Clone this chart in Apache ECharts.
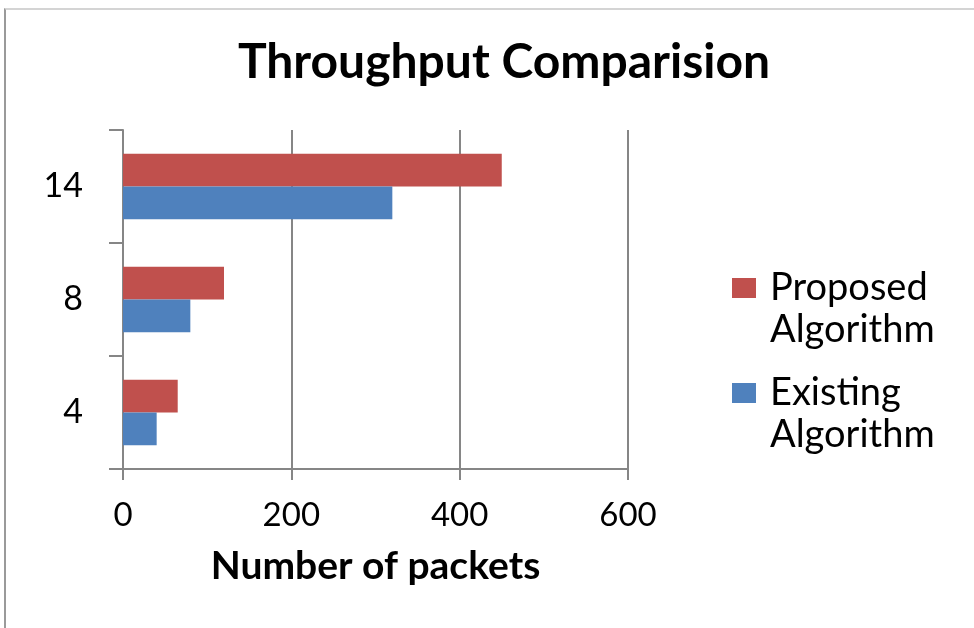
<!DOCTYPE html>
<html>
<head>
<meta charset="utf-8">
<script src="https://cdn.jsdelivr.net/npm/echarts@6/dist/echarts.min.js"></script>
<style>
  html, body { margin: 0; padding: 0; background: #fff; }
  #frame {
    position: absolute; left: 4px; top: 8px; width: 972px; height: 622px;
    border-left: 2px solid #9a9a9a; border-top: 2px solid #d4d4d4;
    pointer-events: none;
  }
  #chart { width: 974px; height: 628px; }
</style>
</head>
<body>
<div id="chart"></div>
<div id="frame"></div>
<script>
// node counts, bottom to top
const categories = ['4', '8', '14'];
const proposed = [65, 120, 450];
const existing = [40, 80, 320];
const xTicks = [0, 200, 400, 600];

const axisGray = '#868686';
const font = 'Lato, "Open Sans", sans-serif';
// square at the top of a taller box so it lines up with the first text line
const legendIcon = 'path://M0,0h24v20h-24zM33,62';

const chart = echarts.init(document.getElementById('chart'));

const option = {
  animation: false,
  title: {
    text: 'Throughput Comparision',
    left: 499,
    textAlign: 'center',
    top: 34,
    textStyle: { fontFamily: font, fontWeight: 'bold', fontSize: 48, color: '#000' }
  },
  legend: {
    orient: 'vertical',
    left: 732,
    top: 267,
    padding: 0,
    itemWidth: 33,
    itemHeight: 62,
    itemGap: 21,
    icon: legendIcon,
    data: ['Proposed Algorithm', 'Existing Algorithm'],
    formatter: name => name.replace(' ', '\n'),
    textStyle: { fontFamily: font, fontSize: 38, color: '#000', lineHeight: 42 }
  },
  grid: { left: 123, right: 346, top: 130, bottom: 159 },
  xAxis: {
    type: 'value',
    min: xTicks[0],
    max: xTicks[xTicks.length - 1],
    interval: 200,
    name: 'Number of packets',
    nameLocation: 'middle',
    nameGap: 78,
    nameTextStyle: { fontFamily: font, fontWeight: 'bold', fontSize: 39, color: '#000' },
    axisLine: { show: true, lineStyle: { color: axisGray, width: 2 } },
    axisTick: { show: true, length: 11, lineStyle: { color: axisGray, width: 2 } },
    axisLabel: { fontFamily: font, fontSize: 33, color: '#000', margin: 30 },
    splitLine: { show: true, lineStyle: { color: axisGray, width: 2 } }
  },
  yAxis: {
    type: 'category',
    data: categories,
    axisLine: { show: true, lineStyle: { color: axisGray, width: 2 } },
    axisTick: { show: true, length: 14, lineStyle: { color: axisGray, width: 2 } },
    axisLabel: { fontFamily: font, fontSize: 34, color: '#000', margin: 40 }
  },
  series: [
    {
      name: 'Proposed Algorithm',
      type: 'bar',
      data: proposed,
      itemStyle: { color: '#c0504d' },
      barGap: '0%',
      barCategoryGap: '42%'
    },
    {
      name: 'Existing Algorithm',
      type: 'bar',
      data: existing,
      itemStyle: { color: '#4f81bd' },
      barGap: '0%',
      barCategoryGap: '42%'
    }
  ]
};

chart.setOption(option);
</script>
</body>
</html>
